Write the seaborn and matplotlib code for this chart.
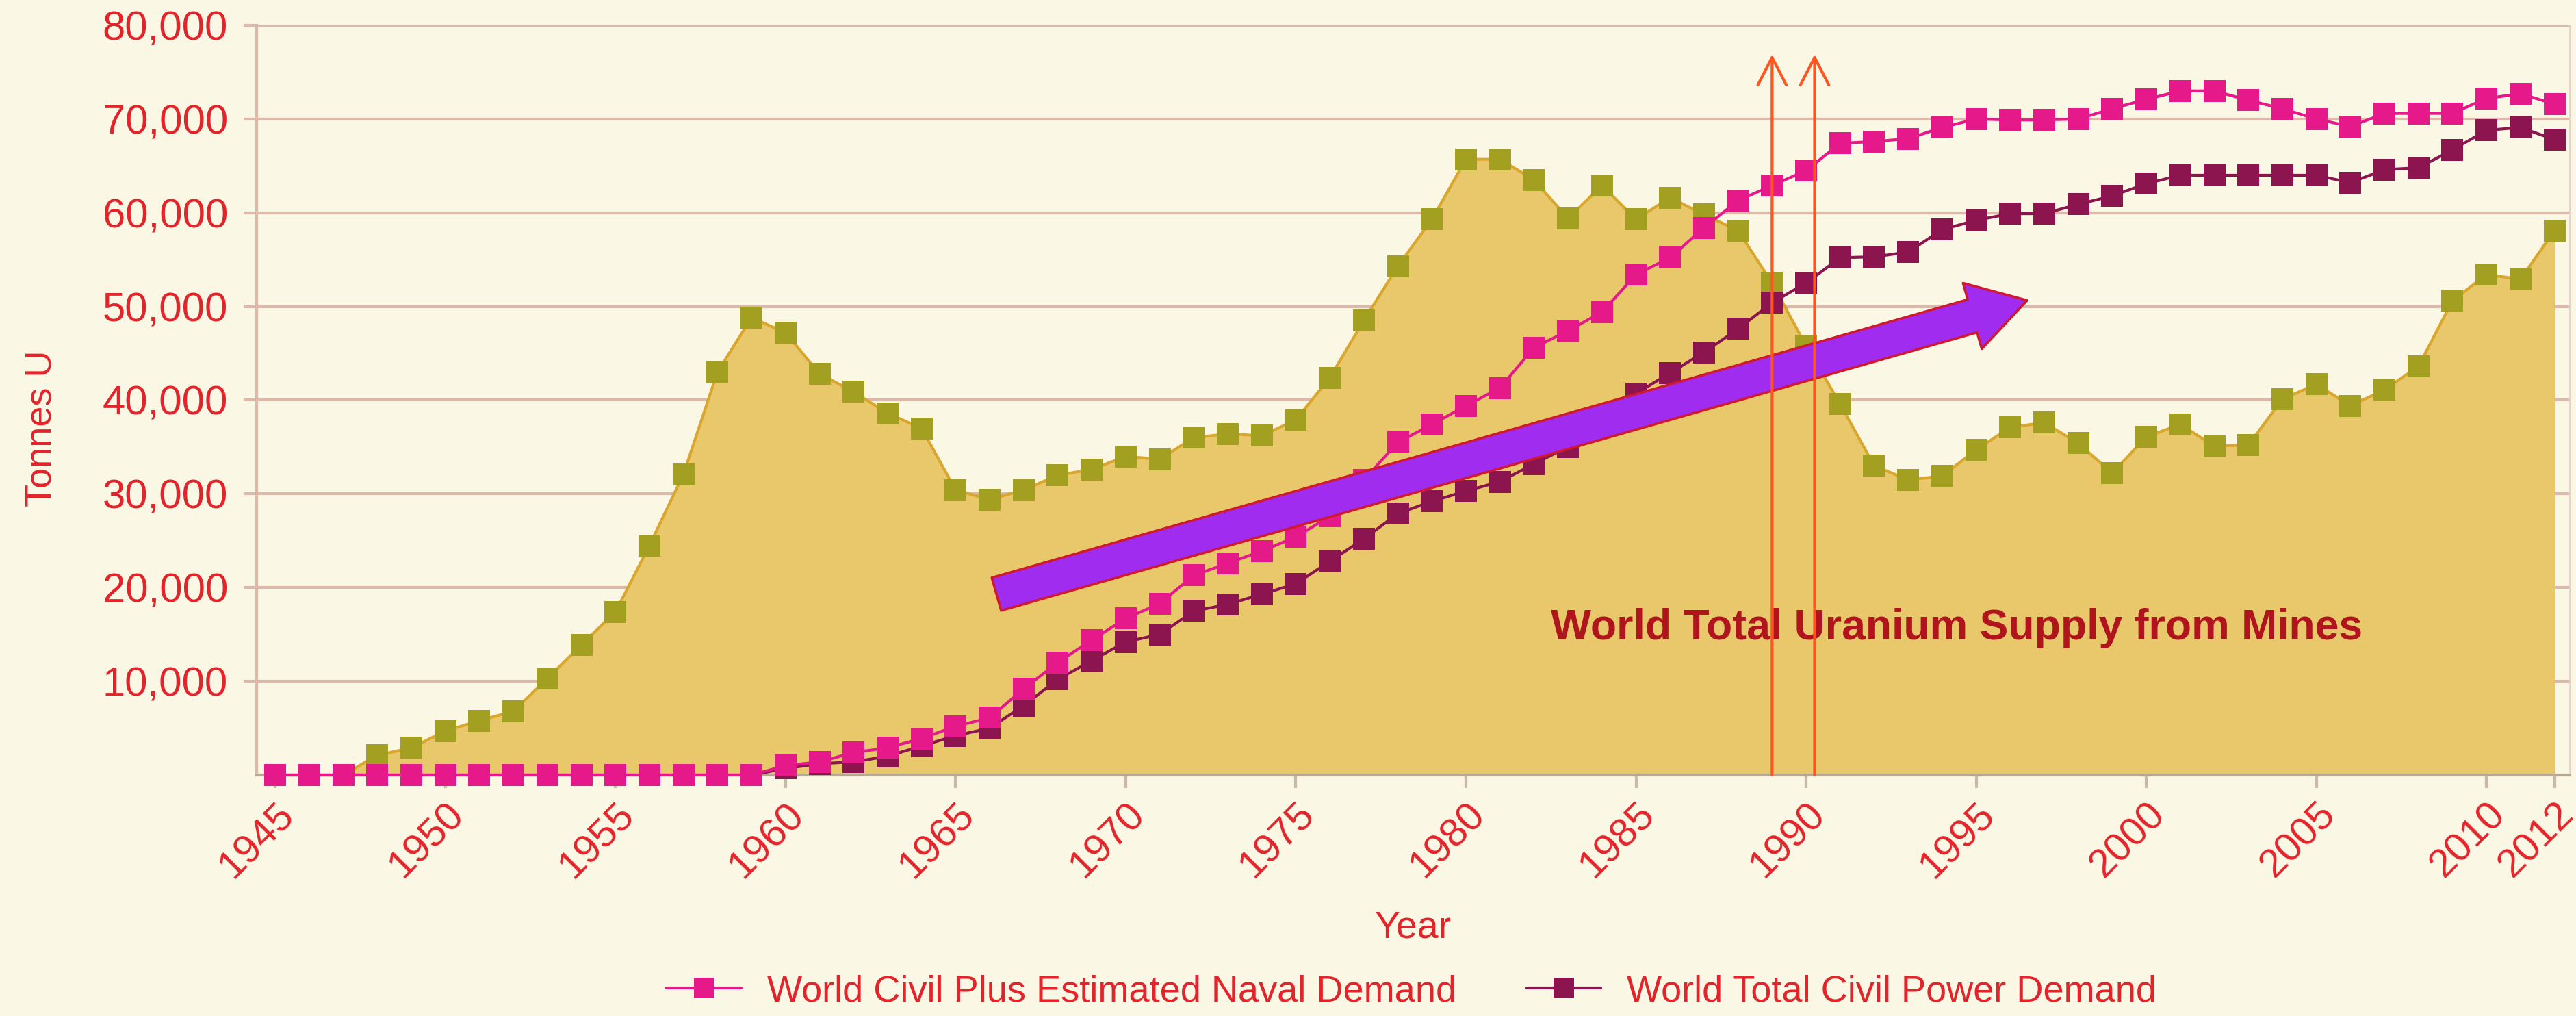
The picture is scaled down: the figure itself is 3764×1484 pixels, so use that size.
import numpy as np
import pandas as pd
import seaborn as sns
import matplotlib
matplotlib.use('Agg')
import matplotlib.pyplot as plt
from matplotlib.lines import Line2D

# Dados (toneladas de uranio)
years = list(range(1945, 2013))

supply = [0, 0, 0, 2100, 2900, 4700, 5800, 6800, 10300, 13900,
          17400, 24500, 32100, 43000, 48800, 47200, 42800, 40900, 38600, 37000,
          30400, 29400, 30400, 32000, 32600, 34000, 33700, 36000, 36400, 36200,
          37900, 42400, 48500, 54300, 59300, 65700, 65700, 63500, 59400, 62900,
          59300, 61600, 59800, 58100, 52500, 45800, 39600, 33000, 31500, 31900,
          34700, 37100, 37600, 35400, 32200, 36100, 37400, 35100, 35200, 40100,
          41700, 39400, 41100, 43600, 50600, 53400, 52900, 58100]

naval = [0, 0, 0, 0, 0, 0, 0, 0, 0, 0,
         0, 0, 0, 0, 0, 1000, 1400, 2400, 2900, 3900,
         5200, 6100, 9200, 12000, 14400, 16700, 18300, 21300, 22600, 23900,
         25400, 27600, 31500, 35500, 37400, 39400, 41300, 45600, 47400, 49400,
         53400, 55200, 58400, 61300, 62900, 64500, 67400, 67600, 67900, 69100,
         70000, 69900, 69900, 70000, 71100, 72100, 73000, 73000, 72000, 71100,
         70000, 69200, 70600, 70600, 70600, 72200, 72700, 71600]

civil = [0, 0, 0, 0, 0, 0, 0, 0, 0, 0,
         0, 0, 0, 0, 0, 700, 1200, 1400, 2000, 3100,
         4200, 5000, 7400, 10200, 12200, 14200, 15000, 17500, 18200, 19300,
         20400, 22800, 25200, 27900, 29200, 30300, 31300, 33200, 35000, 37500,
         40700, 42900, 45100, 47600, 50400, 52500, 55200, 55300, 55800, 58200,
         59200, 59900, 59900, 60900, 61800, 63100, 64000, 64000, 64000, 64000,
         64000, 63200, 64600, 64800, 66700, 68800, 69100, 67800]

xticks = [1945, 1950, 1955, 1960, 1965, 1970, 1975, 1980, 1985, 1990,
          1995, 2000, 2005, 2010, 2012]
yticks = [10000, 20000, 30000, 40000, 50000, 60000, 70000, 80000]
ytick_labels = ['10,000', '20,000', '30,000', '40,000', '50,000', '60,000',
                '70,000', '80,000']

naval_label = 'World Civil Plus Estimated Naval Demand'
civil_label = 'World Total Civil Power Demand'
supply_text = 'World Total Uranium Supply from Mines'

# setas (anos / toneladas)
trend_start = (1966.2, 19300)
trend_end = (1996.5, 50650)
event_years = [1989.0, 1990.25]
event_top = 76900

# cores
bg = '#FAF7E5'
red = '#E3242B'
grid_col = '#DDB9AC'
fill_col = '#E9C86C'
supply_line = '#D9A62E'
olive = '#A3A021'
pink = '#E6198A'
maroon = '#8C1550'

sns.set_style('white')
plt.rcParams['font.family'] = ['Liberation Sans', 'DejaVu Sans']

df = pd.DataFrame({'Year': years, 'supply': supply, 'naval': naval, 'civil': civil})

fig = plt.figure(figsize=(37.64, 14.84), dpi=100, facecolor=bg)
ax = fig.add_axes([0.0996, 0.2372, 0.898, 0.7379])
ax.set_facecolor(bg)

# area da oferta das minas
ax.fill_between(df['Year'], 0, df['supply'], color=fill_col, zorder=1, lw=0)
sns.lineplot(data=df, x='Year', y='supply', ax=ax, color=supply_line, lw=3,
             marker='s', markersize=23, markerfacecolor=olive, markeredgewidth=0,
             zorder=2, clip_on=False, legend=False)
sns.lineplot(data=df, x='Year', y='civil', ax=ax, color=maroon, lw=3,
             marker='s', markersize=23, markeredgewidth=0,
             zorder=3, clip_on=False, legend=False)
sns.lineplot(data=df, x='Year', y='naval', ax=ax, color=pink, lw=3,
             marker='s', markersize=23, markeredgewidth=0,
             zorder=4, clip_on=False, legend=False)

# seta roxa de tendencia
ax.annotate('', xy=trend_end, xytext=trend_start, zorder=5,
            arrowprops=dict(arrowstyle='simple,head_length=0.6,head_width=0.72,tail_width=0.36',
                            mutation_scale=100, fc='#A02CF0', ec='#D0182E', lw=2.5,
                            shrinkA=0, shrinkB=0))

ax.text(1982.5, 15700, supply_text, color='#B0141C', fontsize=45,
        fontweight='bold', va='center', ha='left', zorder=5)

# setas verticais laranja
for ey in event_years:
    ax.annotate('', xy=(ey, event_top), xytext=(ey, 0), zorder=6,
                arrowprops=dict(arrowstyle='->,head_length=0.29,head_width=0.15',
                                mutation_scale=100, color='#FF5522', lw=3,
                                shrinkA=0, shrinkB=0))

ax.set_xlim(1944.45, 2012.45)
ax.set_ylim(0, 80000)
ax.set_xticks(xticks)
ax.set_xticklabels([str(t) for t in xticks])
ax.set_yticks(yticks)
ax.set_yticklabels(ytick_labels)

ax.yaxis.grid(True, color=grid_col, lw=3, zorder=0)
ax.xaxis.grid(False)
ax.set_axisbelow(True)

ax.tick_params(axis='y', length=14, width=3, color=grid_col, pad=16,
               labelsize=43, labelcolor=red, left=True)
ax.tick_params(axis='x', length=14, width=3, color='#C8B8A8', pad=8,
               labelsize=42, labelcolor=red, bottom=True)
for lab in ax.get_xticklabels():
    lab.set_rotation(45)
    lab.set_rotation_mode('anchor')
    lab.set_ha('right')
    lab.set_va('top')

ax.spines['top'].set_visible(False)
ax.spines['left'].set_color(grid_col)
ax.spines['left'].set_linewidth(3)
ax.spines['right'].set_color('#E5D3C8')
ax.spines['right'].set_linewidth(2)
ax.spines['bottom'].set_color('#B8A890')
ax.spines['bottom'].set_linewidth(3)

ax.set_ylabel('Tonnes U', color=red, fontsize=39)
ax.yaxis.set_label_coords(-0.0855, 0.462)
ax.set_xlabel('Year', color=red, fontsize=40)
ax.xaxis.set_label_coords(0.5, -0.18)

handles = [
    Line2D([0], [0], color=pink, lw=3, marker='s', markersize=22, markeredgewidth=0),
    Line2D([0], [0], color=maroon, lw=3, marker='s', markersize=22, markeredgewidth=0),
]
fig.legend(handles, [naval_label, civil_label], loc='center',
           bbox_to_anchor=(0.548, 0.024), ncol=2, frameon=False, fontsize=39,
           labelcolor=red, handlelength=2.0, handletextpad=0.7, columnspacing=1.9)

fig.savefig('out.png', dpi=100, facecolor=bg)
